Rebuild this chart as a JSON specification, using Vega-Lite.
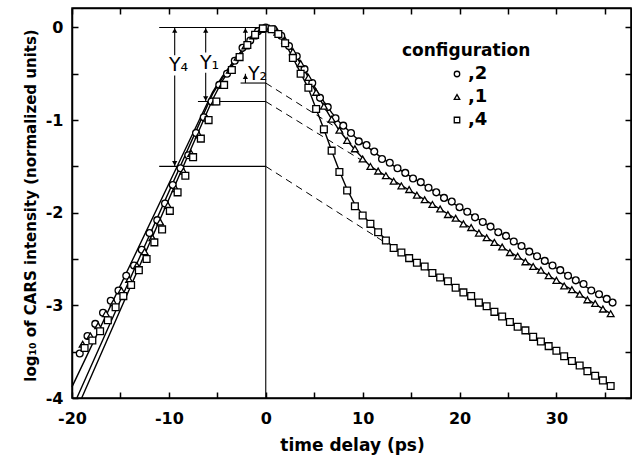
{
  "$schema": "https://vega.github.io/schema/vega-lite/v6.json",
  "width": 559,
  "height": 390,
  "autosize": {"type": "none"},
  "padding": {"left": 72, "top": 8, "right": 1, "bottom": 59},
  "background": "white",
  "config": {
    "view": {"stroke": "black", "strokeWidth": 1.5},
    "font": "DejaVu Sans",
    "axis": {
      "grid": false, "domainColor": "black", "domainWidth": 1.5,
      "tickColor": "black", "tickSize": -6, "tickWidth": 1.5,
      "labelColor": "black", "titleColor": "black",
      "labelFont": "DejaVu Sans", "labelFontWeight": "bold", "labelFontSize": 16,
      "titleFont": "DejaVu Sans", "titleFontWeight": "bold",
      "labelOverlap": false, "labelFlush": false
    },
    "legend": {
      "titleFont": "DejaVu Sans", "titleFontSize": 17, "titleFontWeight": "bold", "titleColor": "black", "titlePadding": 5,
      "labelFont": "DejaVu Sans", "labelFontSize": 18, "labelFontWeight": "bold", "labelColor": "black",
      "labelOffset": 2, "symbolSize": 30, "symbolStrokeWidth": 1.3, "rowPadding": 5, "padding": 0
    }
  },
  "datasets": {
    "obs": [
      {"config": "2", "t": -19.2, "v": -3.52}, {"config": "2", "t": -18.4, "v": -3.33}, {"config": "2", "t": -17.6, "v": -3.2},
      {"config": "2", "t": -16.8, "v": -3.08}, {"config": "2", "t": -16.0, "v": -2.95}, {"config": "2", "t": -15.2, "v": -2.84},
      {"config": "2", "t": -14.4, "v": -2.68}, {"config": "2", "t": -13.6, "v": -2.57}, {"config": "2", "t": -12.8, "v": -2.4},
      {"config": "2", "t": -12.0, "v": -2.22}, {"config": "2", "t": -11.2, "v": -2.08}, {"config": "2", "t": -10.4, "v": -1.9},
      {"config": "2", "t": -9.6, "v": -1.7}, {"config": "2", "t": -8.8, "v": -1.52}, {"config": "2", "t": -8.0, "v": -1.38},
      {"config": "2", "t": -7.2, "v": -1.14}, {"config": "2", "t": -6.4, "v": -0.97}, {"config": "2", "t": -5.6, "v": -0.8},
      {"config": "2", "t": -4.8, "v": -0.62}, {"config": "2", "t": -4.0, "v": -0.5}, {"config": "2", "t": -3.2, "v": -0.36},
      {"config": "2", "t": -2.4, "v": -0.22}, {"config": "2", "t": -1.6, "v": -0.14}, {"config": "2", "t": -0.8, "v": -0.04},
      {"config": "2", "t": 0.0, "v": 0.0},
      {"config": "2", "t": 0.8, "v": -0.02}, {"config": "2", "t": 1.6, "v": -0.09}, {"config": "2", "t": 2.4, "v": -0.2},
      {"config": "2", "t": 3.2, "v": -0.31}, {"config": "2", "t": 4.0, "v": -0.45}, {"config": "2", "t": 4.8, "v": -0.6},
      {"config": "2", "t": 5.6, "v": -0.76}, {"config": "2", "t": 6.4, "v": -0.86}, {"config": "2", "t": 7.2, "v": -0.98},
      {"config": "2", "t": 8.0, "v": -1.06}, {"config": "2", "t": 8.8, "v": -1.14}, {"config": "2", "t": 9.6, "v": -1.23},
      {"config": "2", "t": 10.4, "v": -1.27}, {"config": "2", "t": 11.2, "v": -1.34}, {"config": "2", "t": 12.0, "v": -1.42},
      {"config": "2", "t": 12.8, "v": -1.46}, {"config": "2", "t": 13.6, "v": -1.52}, {"config": "2", "t": 14.4, "v": -1.57},
      {"config": "2", "t": 15.2, "v": -1.63}, {"config": "2", "t": 16.0, "v": -1.67}, {"config": "2", "t": 16.8, "v": -1.73},
      {"config": "2", "t": 17.6, "v": -1.78}, {"config": "2", "t": 18.4, "v": -1.84}, {"config": "2", "t": 19.2, "v": -1.88},
      {"config": "2", "t": 20.0, "v": -1.94}, {"config": "2", "t": 20.8, "v": -1.99}, {"config": "2", "t": 21.6, "v": -2.05},
      {"config": "2", "t": 22.4, "v": -2.1}, {"config": "2", "t": 23.2, "v": -2.15}, {"config": "2", "t": 24.0, "v": -2.21},
      {"config": "2", "t": 24.8, "v": -2.25}, {"config": "2", "t": 25.6, "v": -2.31}, {"config": "2", "t": 26.4, "v": -2.36},
      {"config": "2", "t": 27.2, "v": -2.42}, {"config": "2", "t": 28.0, "v": -2.47}, {"config": "2", "t": 28.8, "v": -2.52},
      {"config": "2", "t": 29.6, "v": -2.57}, {"config": "2", "t": 30.4, "v": -2.62}, {"config": "2", "t": 31.2, "v": -2.68},
      {"config": "2", "t": 32.0, "v": -2.73}, {"config": "2", "t": 32.8, "v": -2.77}, {"config": "2", "t": 33.6, "v": -2.84},
      {"config": "2", "t": 34.4, "v": -2.88}, {"config": "2", "t": 35.2, "v": -2.93}, {"config": "2", "t": 35.8, "v": -2.97},

      {"config": "1", "t": -18.9, "v": -3.42}, {"config": "1", "t": -18.1, "v": -3.33}, {"config": "1", "t": -17.3, "v": -3.22},
      {"config": "1", "t": -16.5, "v": -3.09}, {"config": "1", "t": -15.7, "v": -2.97}, {"config": "1", "t": -14.9, "v": -2.84},
      {"config": "1", "t": -14.1, "v": -2.72}, {"config": "1", "t": -13.3, "v": -2.57}, {"config": "1", "t": -12.5, "v": -2.42},
      {"config": "1", "t": -11.7, "v": -2.27}, {"config": "1", "t": -10.9, "v": -2.1}, {"config": "1", "t": -10.1, "v": -1.92},
      {"config": "1", "t": -9.3, "v": -1.74}, {"config": "1", "t": -8.5, "v": -1.55}, {"config": "1", "t": -7.7, "v": -1.36},
      {"config": "1", "t": -6.9, "v": -1.16}, {"config": "1", "t": -6.1, "v": -0.98}, {"config": "1", "t": -5.3, "v": -0.8},
      {"config": "1", "t": -4.5, "v": -0.62}, {"config": "1", "t": -3.7, "v": -0.46}, {"config": "1", "t": -2.9, "v": -0.32},
      {"config": "1", "t": -2.1, "v": -0.2}, {"config": "1", "t": -1.3, "v": -0.09}, {"config": "1", "t": -0.5, "v": -0.02},
      {"config": "1", "t": 0.4, "v": -0.01}, {"config": "1", "t": 1.2, "v": -0.05}, {"config": "1", "t": 2.0, "v": -0.14},
      {"config": "1", "t": 2.8, "v": -0.26}, {"config": "1", "t": 3.6, "v": -0.39}, {"config": "1", "t": 4.4, "v": -0.54},
      {"config": "1", "t": 5.2, "v": -0.7}, {"config": "1", "t": 6.0, "v": -0.85}, {"config": "1", "t": 6.8, "v": -0.99},
      {"config": "1", "t": 7.6, "v": -1.11}, {"config": "1", "t": 8.4, "v": -1.22}, {"config": "1", "t": 9.2, "v": -1.31},
      {"config": "1", "t": 10.0, "v": -1.42}, {"config": "1", "t": 10.8, "v": -1.5}, {"config": "1", "t": 11.6, "v": -1.55},
      {"config": "1", "t": 12.4, "v": -1.6}, {"config": "1", "t": 13.2, "v": -1.66}, {"config": "1", "t": 14.0, "v": -1.71},
      {"config": "1", "t": 14.8, "v": -1.75}, {"config": "1", "t": 15.6, "v": -1.81}, {"config": "1", "t": 16.4, "v": -1.86},
      {"config": "1", "t": 17.2, "v": -1.91}, {"config": "1", "t": 18.0, "v": -1.96}, {"config": "1", "t": 18.8, "v": -2.02},
      {"config": "1", "t": 19.6, "v": -2.06}, {"config": "1", "t": 20.4, "v": -2.12}, {"config": "1", "t": 21.2, "v": -2.16},
      {"config": "1", "t": 22.0, "v": -2.22}, {"config": "1", "t": 22.8, "v": -2.27}, {"config": "1", "t": 23.6, "v": -2.32},
      {"config": "1", "t": 24.4, "v": -2.37}, {"config": "1", "t": 25.2, "v": -2.43}, {"config": "1", "t": 26.0, "v": -2.47},
      {"config": "1", "t": 26.8, "v": -2.53}, {"config": "1", "t": 27.6, "v": -2.58}, {"config": "1", "t": 28.4, "v": -2.62},
      {"config": "1", "t": 29.2, "v": -2.68}, {"config": "1", "t": 30.0, "v": -2.73}, {"config": "1", "t": 30.8, "v": -2.79},
      {"config": "1", "t": 31.6, "v": -2.83}, {"config": "1", "t": 32.4, "v": -2.88}, {"config": "1", "t": 33.2, "v": -2.94},
      {"config": "1", "t": 34.0, "v": -2.98}, {"config": "1", "t": 34.8, "v": -3.04}, {"config": "1", "t": 35.6, "v": -3.09},

      {"config": "4", "t": -18.7, "v": -3.46}, {"config": "4", "t": -17.9, "v": -3.38}, {"config": "4", "t": -17.1, "v": -3.28},
      {"config": "4", "t": -16.3, "v": -3.16}, {"config": "4", "t": -15.5, "v": -3.02}, {"config": "4", "t": -14.7, "v": -2.9},
      {"config": "4", "t": -13.9, "v": -2.78}, {"config": "4", "t": -13.1, "v": -2.62}, {"config": "4", "t": -12.3, "v": -2.5},
      {"config": "4", "t": -11.5, "v": -2.32}, {"config": "4", "t": -10.7, "v": -2.18}, {"config": "4", "t": -9.9, "v": -1.98},
      {"config": "4", "t": -9.1, "v": -1.78}, {"config": "4", "t": -8.3, "v": -1.6}, {"config": "4", "t": -7.5, "v": -1.4},
      {"config": "4", "t": -6.7, "v": -1.2}, {"config": "4", "t": -5.9, "v": -1.0}, {"config": "4", "t": -5.1, "v": -0.8},
      {"config": "4", "t": -4.3, "v": -0.62}, {"config": "4", "t": -3.5, "v": -0.46}, {"config": "4", "t": -2.7, "v": -0.32},
      {"config": "4", "t": -1.9, "v": -0.19}, {"config": "4", "t": -1.1, "v": -0.08}, {"config": "4", "t": -0.3, "v": -0.01},
      {"config": "4", "t": 0.6, "v": -0.02}, {"config": "4", "t": 1.3, "v": -0.07}, {"config": "4", "t": 2.0, "v": -0.17},
      {"config": "4", "t": 2.8, "v": -0.33}, {"config": "4", "t": 3.6, "v": -0.5}, {"config": "4", "t": 4.4, "v": -0.65},
      {"config": "4", "t": 5.2, "v": -0.88}, {"config": "4", "t": 6.0, "v": -1.1}, {"config": "4", "t": 6.8, "v": -1.33},
      {"config": "4", "t": 7.6, "v": -1.56}, {"config": "4", "t": 8.4, "v": -1.76}, {"config": "4", "t": 9.2, "v": -1.93},
      {"config": "4", "t": 10.0, "v": -2.03}, {"config": "4", "t": 10.8, "v": -2.12}, {"config": "4", "t": 11.6, "v": -2.21},
      {"config": "4", "t": 12.4, "v": -2.3}, {"config": "4", "t": 13.2, "v": -2.38}, {"config": "4", "t": 14.0, "v": -2.43},
      {"config": "4", "t": 14.8, "v": -2.49}, {"config": "4", "t": 15.6, "v": -2.54}, {"config": "4", "t": 16.4, "v": -2.58},
      {"config": "4", "t": 17.2, "v": -2.65}, {"config": "4", "t": 18.0, "v": -2.7}, {"config": "4", "t": 18.8, "v": -2.74},
      {"config": "4", "t": 19.6, "v": -2.81}, {"config": "4", "t": 20.4, "v": -2.86}, {"config": "4", "t": 21.2, "v": -2.9},
      {"config": "4", "t": 22.0, "v": -2.97}, {"config": "4", "t": 22.8, "v": -3.01}, {"config": "4", "t": 23.6, "v": -3.07},
      {"config": "4", "t": 24.4, "v": -3.12}, {"config": "4", "t": 25.2, "v": -3.18}, {"config": "4", "t": 26.0, "v": -3.23},
      {"config": "4", "t": 26.8, "v": -3.27}, {"config": "4", "t": 27.6, "v": -3.34}, {"config": "4", "t": 28.4, "v": -3.39},
      {"config": "4", "t": 29.2, "v": -3.44}, {"config": "4", "t": 30.0, "v": -3.49}, {"config": "4", "t": 30.8, "v": -3.55},
      {"config": "4", "t": 31.6, "v": -3.6}, {"config": "4", "t": 32.4, "v": -3.65}, {"config": "4", "t": 33.2, "v": -3.71},
      {"config": "4", "t": 34.0, "v": -3.76}, {"config": "4", "t": 34.8, "v": -3.81}, {"config": "4", "t": 35.6, "v": -3.87}
    ],
    "fits": [
      {"series": "2", "t": -20, "v": -3.88}, {"series": "2", "t": -5.5, "v": -0.7}, {"series": "2", "t": -4.5, "v": -0.53},
      {"series": "2", "t": -3.5, "v": -0.39}, {"series": "2", "t": -2.5, "v": -0.25}, {"series": "2", "t": -1.5, "v": -0.12},
      {"series": "2", "t": -0.7, "v": -0.03}, {"series": "2", "t": 0, "v": 0}, {"series": "2", "t": 0.6, "v": -0.01},
      {"series": "2", "t": 1.2, "v": -0.05}, {"series": "2", "t": 2.0, "v": -0.13}, {"series": "2", "t": 2.8, "v": -0.25},
      {"series": "2", "t": 3.6, "v": -0.38}, {"series": "2", "t": 4.4, "v": -0.52}, {"series": "2", "t": 5.2, "v": -0.67},
      {"series": "2", "t": 6.0, "v": -0.8}, {"series": "2", "t": 6.8, "v": -0.92}, {"series": "2", "t": 7.6, "v": -1.02},
      {"series": "2", "t": 8.4, "v": -1.1}, {"series": "2", "t": 9.2, "v": -1.18}, {"series": "2", "t": 10.0, "v": -1.25},
      {"series": "2", "t": 11.0, "v": -1.33}, {"series": "2", "t": 12.0, "v": -1.41}, {"series": "2", "t": 13.0, "v": -1.48},
      {"series": "2", "t": 35.8, "v": -2.98},
      {"series": "1", "t": -19.5, "v": -4.0}, {"series": "1", "t": -5.5, "v": -0.72}, {"series": "1", "t": -4.5, "v": -0.55},
      {"series": "1", "t": -3.5, "v": -0.4}, {"series": "1", "t": -2.5, "v": -0.26}, {"series": "1", "t": -1.5, "v": -0.13},
      {"series": "1", "t": -0.7, "v": -0.04}, {"series": "1", "t": 0, "v": 0}, {"series": "1", "t": 0.6, "v": -0.01},
      {"series": "1", "t": 1.2, "v": -0.05}, {"series": "1", "t": 2.0, "v": -0.14}, {"series": "1", "t": 2.8, "v": -0.26},
      {"series": "1", "t": 3.6, "v": -0.39}, {"series": "1", "t": 4.4, "v": -0.54}, {"series": "1", "t": 5.2, "v": -0.7},
      {"series": "1", "t": 6.0, "v": -0.85}, {"series": "1", "t": 6.8, "v": -0.99}, {"series": "1", "t": 7.6, "v": -1.11},
      {"series": "1", "t": 8.4, "v": -1.22}, {"series": "1", "t": 9.2, "v": -1.32}, {"series": "1", "t": 10.0, "v": -1.41},
      {"series": "1", "t": 10.8, "v": -1.5}, {"series": "1", "t": 35.6, "v": -3.09},
      {"series": "4", "t": -19, "v": -4.0}, {"series": "4", "t": -5.5, "v": -0.78}, {"series": "4", "t": -4.5, "v": -0.58},
      {"series": "4", "t": -3.5, "v": -0.42}, {"series": "4", "t": -2.5, "v": -0.28}, {"series": "4", "t": -1.5, "v": -0.14},
      {"series": "4", "t": -0.7, "v": -0.04}, {"series": "4", "t": 0, "v": 0}, {"series": "4", "t": 0.6, "v": -0.02},
      {"series": "4", "t": 1.2, "v": -0.06}, {"series": "4", "t": 2.0, "v": -0.17}, {"series": "4", "t": 2.8, "v": -0.33},
      {"series": "4", "t": 3.6, "v": -0.49}, {"series": "4", "t": 4.4, "v": -0.66}, {"series": "4", "t": 5.2, "v": -0.88},
      {"series": "4", "t": 6.0, "v": -1.1}, {"series": "4", "t": 6.8, "v": -1.33}, {"series": "4", "t": 7.6, "v": -1.55},
      {"series": "4", "t": 8.4, "v": -1.75}, {"series": "4", "t": 9.2, "v": -1.91}, {"series": "4", "t": 10.0, "v": -2.02},
      {"series": "4", "t": 10.8, "v": -2.12}, {"series": "4", "t": 11.6, "v": -2.21}, {"series": "4", "t": 12.4, "v": -2.29},
      {"series": "4", "t": 13.2, "v": -2.38}, {"series": "4", "t": 35.6, "v": -3.87}
    ],
    "segs": [
      {"t1": -11, "t2": 0, "v1": 0, "v2": 0},
      {"t1": -2.6, "t2": 0, "v1": -0.6, "v2": -0.6},
      {"t1": -7.0, "t2": 0, "v1": -0.8, "v2": -0.8},
      {"t1": -11, "t2": 0, "v1": -1.5, "v2": -1.5},
      {"t1": 0, "t2": 0, "v1": -4, "v2": 0},
      {"t1": -9.4, "t2": -9.4, "v1": 0, "v2": -0.3},
      {"t1": -9.4, "t2": -9.4, "v1": -0.52, "v2": -1.5},
      {"t1": -6.2, "t2": -6.2, "v1": 0, "v2": -0.27},
      {"t1": -6.2, "t2": -6.2, "v1": -0.49, "v2": -0.8},
      {"t1": -2.1, "t2": -2.1, "v1": 0, "v2": -0.17},
      {"t1": -2.1, "t2": -2.1, "v1": -0.5, "v2": -0.6}
    ],
    "dashes": [
      {"t1": 0, "t2": 8.5, "v1": -0.6, "v2": -1.16},
      {"t1": 0, "t2": 10.3, "v1": -0.8, "v2": -1.46},
      {"t1": 0, "t2": 12.6, "v1": -1.5, "v2": -2.34}
    ],
    "headsUp": [
      {"t": -9.4, "v": 0}, {"t": -6.2, "v": 0}, {"t": -2.1, "v": 0}, {"t": -2.1, "v": -0.5}
    ],
    "headsDown": [
      {"t": -9.4, "v": -1.5}, {"t": -6.2, "v": -0.8}
    ],
    "notes": [
      {"t": -9.0, "v": -0.41, "txt": "Y₄"},
      {"t": -5.8, "v": -0.38, "txt": "Y₁"},
      {"t": -0.85, "v": -0.5, "txt": "Y₂"}
    ]
  },
  "layer": [
    {
      "data": {"name": "segs"},
      "mark": {"type": "rule", "color": "black", "strokeWidth": 1.1},
      "encoding": {
        "x": {"field": "t1", "type": "quantitative", "scale": {"domain": [-20, 37.7], "nice": false, "zero": false}, "axis": null},
        "x2": {"field": "t2"},
        "y": {"field": "v1", "type": "quantitative", "scale": {"domain": [-4, 0.21], "nice": false, "zero": false}, "axis": null},
        "y2": {"field": "v2"}
      }
    },
    {
      "data": {"name": "dashes"},
      "mark": {"type": "rule", "color": "black", "strokeWidth": 1, "strokeDash": [7, 5]},
      "encoding": {
        "x": {"field": "t1", "type": "quantitative", "scale": {"domain": [-20, 37.7], "nice": false, "zero": false}, "axis": null},
        "x2": {"field": "t2"},
        "y": {"field": "v1", "type": "quantitative", "scale": {"domain": [-4, 0.21], "nice": false, "zero": false}, "axis": null},
        "y2": {"field": "v2"}
      }
    },
    {
      "data": {"name": "fits"},
      "mark": {"type": "line", "color": "black", "strokeWidth": 1.4},
      "encoding": {
        "x": {"field": "t", "type": "quantitative", "scale": {"domain": [-20, 37.7], "nice": false, "zero": false},
          "axis": {"orient": "top", "values": [-20, -15, -10, -5, 0, 5, 10, 15, 20, 25, 30, 35], "labels": false, "title": null}},
        "y": {"field": "v", "type": "quantitative", "scale": {"domain": [-4, 0.21], "nice": false, "zero": false},
          "axis": {"orient": "right", "values": [-4, -3.5, -3, -2.5, -2, -1.5, -1, -0.5, 0], "labels": false, "title": null}},
        "detail": {"field": "series", "type": "nominal"}
      }
    },
    {
      "data": {"name": "obs"},
      "mark": {"type": "point", "filled": false, "fill": "white", "strokeWidth": 1.3, "size": 46, "opacity": 1, "fillOpacity": 1},
      "encoding": {
        "x": {"field": "t", "type": "quantitative", "scale": {"domain": [-20, 37.7], "nice": false, "zero": false},
          "axis": {"orient": "bottom", "values": [-20, -15, -10, -5, 0, 5, 10, 15, 20, 25, 30, 35],
            "labelExpr": "datum.value % 10 == 0 ? '' + datum.value : ''", "labelPadding": 18,
            "title": "time delay (ps)", "titleFontSize": 17, "titleX": 280, "titleY": 47, "titleBaseline": "middle", "titleAlign": "center"}},
        "y": {"field": "v", "type": "quantitative", "scale": {"domain": [-4, 0.21], "nice": false, "zero": false},
          "axis": {"orient": "left", "values": [-4, -3.5, -3, -2.5, -2, -1.5, -1, -0.5, 0],
            "labelExpr": "datum.value % 1 == 0 ? '' + datum.value : ''", "labelPadding": 15,
            "title": "log₁₀ of CARS intensity (normalized units)", "titleFontSize": 15, "titleX": -42, "titleY": 197,
            "titleBaseline": "middle", "titleAlign": "center"}},
        "color": {"field": "config", "type": "nominal",
          "scale": {"domain": ["2", "1", "4"], "range": ["black", "black", "black"]},
          "legend": {"title": "configuration", "orient": "none", "legendX": 330, "legendY": 35,
            "labelExpr": "',' + datum.label", "symbolOffset": 46}},
        "shape": {"field": "config", "type": "nominal",
          "scale": {"domain": ["2", "1", "4"], "range": ["circle", "triangle-up", "square"]},
          "legend": {"title": "configuration", "orient": "none", "legendX": 330, "legendY": 35,
            "labelExpr": "',' + datum.label", "symbolOffset": 46}}
      }
    },
    {
      "data": {"name": "headsUp"},
      "mark": {"type": "point", "shape": "triangle-up", "filled": true, "color": "black", "size": 28, "yOffset": 3, "opacity": 1},
      "encoding": {
        "x": {"field": "t", "type": "quantitative", "scale": {"domain": [-20, 37.7], "nice": false, "zero": false}, "axis": null},
        "y": {"field": "v", "type": "quantitative", "scale": {"domain": [-4, 0.21], "nice": false, "zero": false}, "axis": null}
      }
    },
    {
      "data": {"name": "headsDown"},
      "mark": {"type": "point", "shape": "triangle-down", "filled": true, "color": "black", "size": 28, "yOffset": -3, "opacity": 1},
      "encoding": {
        "x": {"field": "t", "type": "quantitative", "scale": {"domain": [-20, 37.7], "nice": false, "zero": false}, "axis": null},
        "y": {"field": "v", "type": "quantitative", "scale": {"domain": [-4, 0.21], "nice": false, "zero": false}, "axis": null}
      }
    },
    {
      "data": {"name": "notes"},
      "mark": {"type": "text", "font": "DejaVu Sans", "fontSize": 19, "color": "black", "align": "center", "baseline": "middle"},
      "encoding": {
        "x": {"field": "t", "type": "quantitative", "scale": {"domain": [-20, 37.7], "nice": false, "zero": false}, "axis": null},
        "y": {"field": "v", "type": "quantitative", "scale": {"domain": [-4, 0.21], "nice": false, "zero": false}, "axis": null},
        "text": {"field": "txt", "type": "nominal"}
      }
    }
  ],
  "resolve": {"axis": {"x": "independent", "y": "independent"}}
}
